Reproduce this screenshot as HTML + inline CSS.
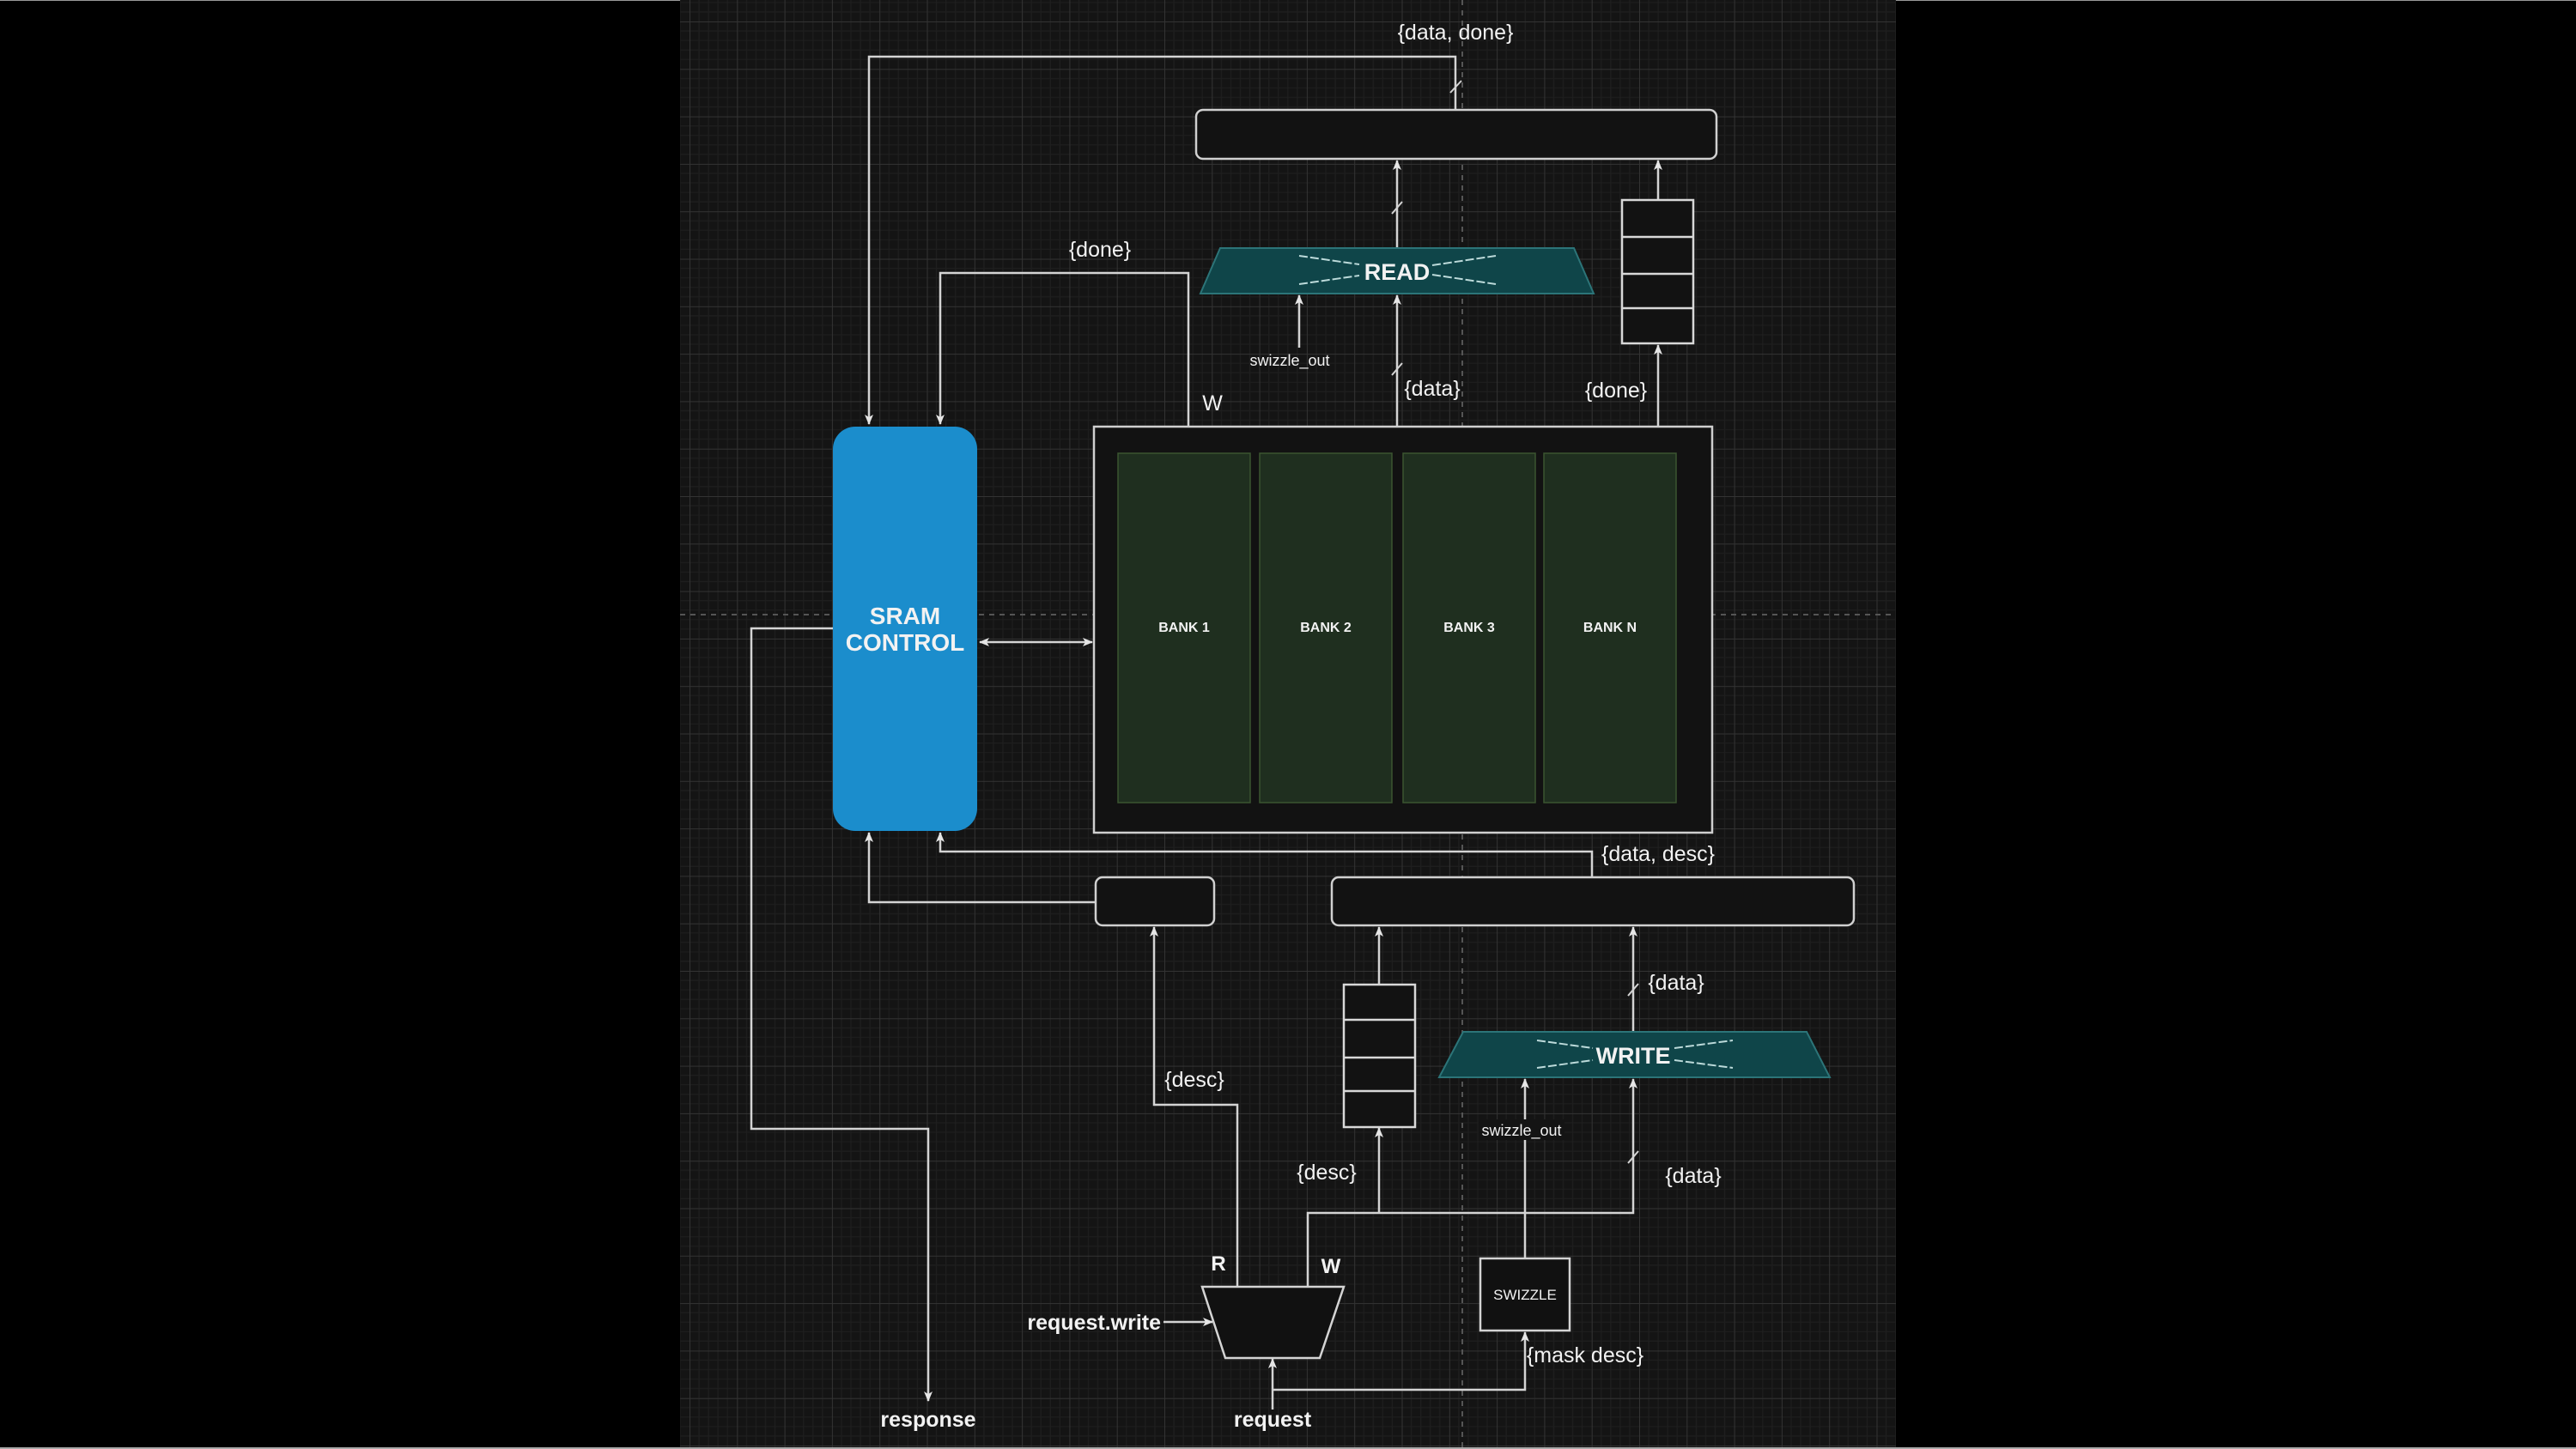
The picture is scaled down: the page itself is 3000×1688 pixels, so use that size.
<!DOCTYPE html>
<html>
<head>
<meta charset="utf-8">
<style>
  html,body{margin:0;padding:0;background:#000;}
  svg{display:block;}
  text{font-family:"Liberation Sans",Arial,sans-serif;fill:#f2f2f2;}
</style>
</head>
<body>
<svg width="3000" height="1688" viewBox="0 0 3000 1688" xmlns="http://www.w3.org/2000/svg">
  <defs>
    <pattern id="grid" x="803" y="25" width="55.3" height="55.3" patternUnits="userSpaceOnUse">
      <path d="M11.06 0V55.3M22.12 0V55.3M33.18 0V55.3M44.24 0V55.3M0 11.06H55.3M0 22.12H55.3M0 33.18H55.3M0 44.24H55.3" stroke="#1e1e1e" stroke-width="1.2" fill="none"/>
      <path d="M0 0V55.3M0 0H55.3" stroke="#333" stroke-width="2" fill="none"/>
    </pattern>
    <marker id="ah" viewBox="0 0 12 10" refX="11" refY="5" markerWidth="12" markerHeight="10" markerUnits="userSpaceOnUse" orient="auto-start-reverse">
      <path d="M0,0 L12,5 L0,10 L3,5 Z" fill="#e6e6e6"/>
    </marker>
  </defs>

  <!-- canvas -->
  <rect x="0" y="0" width="3000" height="1688" fill="#000"/>
  <rect x="792" y="0" width="1416" height="1688" fill="#141414"/>
  <rect x="792" y="0" width="1416" height="1688" fill="url(#grid)"/>
  <line x1="0" y1="0.5" x2="792" y2="0.5" stroke="#999" stroke-width="1"/>
  <line x1="2208" y1="0.5" x2="3000" y2="0.5" stroke="#999" stroke-width="1"/>
  <line x1="0" y1="1687" x2="3000" y2="1687" stroke="#aaa" stroke-width="2"/>

  <!-- guide lines -->
  <line x1="792" y1="716" x2="2208" y2="716" stroke="#555" stroke-width="2" stroke-dasharray="6 6"/>
  <line x1="1703" y1="0" x2="1703" y2="1688" stroke="#555" stroke-width="2" stroke-dasharray="6 6"/>

  <!-- connectors -->
  <g fill="none" stroke="#d4d4d4" stroke-width="2.5">
    <polyline points="1695,128 1695,66 1012,66 1012,494" marker-end="url(#ah)"/>
    <polyline points="1384,497 1384,318 1095,318 1095,494" marker-end="url(#ah)"/>
    <polyline points="1627,497 1627,344" marker-end="url(#ah)"/>
    <polyline points="1627,289 1627,187" marker-end="url(#ah)"/>
    <polyline points="1513,405 1513,344" marker-end="url(#ah)"/>
    <polyline points="1931,497 1931,402" marker-end="url(#ah)"/>
    <polyline points="1931,233 1931,187" marker-end="url(#ah)"/>
    <polyline points="1141,748 1272,748" marker-start="url(#ah)" marker-end="url(#ah)"/>
    <polyline points="970,732 875,732 875,1315 1081,1315 1081,1632" marker-end="url(#ah)"/>
    <polyline points="1854,1022 1854,992 1095,992 1095,970" marker-end="url(#ah)"/>
    <polyline points="1276,1051 1012,1051 1012,970" marker-end="url(#ah)"/>
    <polyline points="1441,1499 1441,1287 1344,1287 1344,1080" marker-end="url(#ah)"/>
    <polyline points="1523,1499 1523,1413 1902,1413 1902,1257" marker-end="url(#ah)"/>
    <polyline points="1606,1413 1606,1314" marker-end="url(#ah)"/>
    <polyline points="1606,1147 1606,1080" marker-end="url(#ah)"/>
    <polyline points="1902,1202 1902,1080" marker-end="url(#ah)"/>
    <polyline points="1776,1466 1776,1257" marker-end="url(#ah)"/>
    <polyline points="1482,1642 1482,1583" marker-end="url(#ah)"/>
    <polyline points="1482,1619 1776,1619 1776,1552" marker-end="url(#ah)"/>
    <polyline points="1355,1540 1412,1540" marker-end="url(#ah)"/>
  </g>
  <!-- bus slashes -->
  <g stroke="#d4d4d4" stroke-width="2">
    <line x1="1689" y1="108" x2="1702" y2="94"/>
    <line x1="1621" y1="249" x2="1633" y2="235"/>
    <line x1="1621" y1="437" x2="1633" y2="423"/>
    <line x1="1896" y1="1160" x2="1908" y2="1146"/>
    <line x1="1896" y1="1355" x2="1908" y2="1341"/>
  </g>

  <!-- top output box -->
  <rect x="1393" y="128" width="606" height="57" rx="8" fill="#121212" stroke="#d0d0d0" stroke-width="2.5"/>

  <!-- READ trapezoid -->
  <polygon points="1421,289 1833,289 1856,342 1398,342" fill="#0f4549" stroke="#2c7478" stroke-width="2"/>
  <g stroke="#bcdada" stroke-width="2" stroke-dasharray="10 3">
    <line x1="1513" y1="298" x2="1583" y2="308"/>
    <line x1="1668" y1="320" x2="1742" y2="331"/>
    <line x1="1513" y1="331" x2="1583" y2="321"/>
    <line x1="1668" y1="309" x2="1742" y2="298"/>
  </g>
  <text x="1627" y="326" font-size="27" font-weight="bold" text-anchor="middle">READ</text>

  <!-- top FIFO -->
  <rect x="1889" y="233" width="83" height="167" fill="#121212" stroke="#d8d8d8" stroke-width="2.5"/>
  <g stroke="#d8d8d8" stroke-width="2.5">
    <line x1="1889" y1="276" x2="1972" y2="276"/>
    <line x1="1889" y1="319" x2="1972" y2="319"/>
    <line x1="1889" y1="359" x2="1972" y2="359"/>
  </g>

  <!-- SRAM CONTROL -->
  <rect x="970" y="497" width="168" height="471" rx="26" fill="#1b8dcc"/>
  <text x="1054" y="727" font-size="28" font-weight="bold" text-anchor="middle">SRAM</text>
  <text x="1054" y="758" font-size="28" font-weight="bold" text-anchor="middle">CONTROL</text>

  <!-- bank container -->
  <rect x="1274" y="497" width="720" height="473" fill="#121212" stroke="#cfcfcf" stroke-width="2.5"/>
  <g fill="#1f2f1f" stroke="#3b5530" stroke-width="1.5">
    <rect x="1302" y="528" width="154" height="407"/>
    <rect x="1467" y="528" width="154" height="407"/>
    <rect x="1634" y="528" width="154" height="407"/>
    <rect x="1798" y="528" width="154" height="407"/>
  </g>
  <g font-size="16" font-weight="bold" text-anchor="middle">
    <text x="1379" y="736">BANK 1</text>
    <text x="1544" y="736">BANK 2</text>
    <text x="1711" y="736">BANK 3</text>
    <text x="1875" y="736">BANK N</text>
  </g>

  <!-- lower boxes -->
  <rect x="1276" y="1022" width="138" height="56" rx="8" fill="#121212" stroke="#d0d0d0" stroke-width="2.5"/>
  <rect x="1551" y="1022" width="608" height="56" rx="8" fill="#121212" stroke="#d0d0d0" stroke-width="2.5"/>

  <!-- bottom FIFO -->
  <rect x="1565" y="1147" width="83" height="166" fill="#121212" stroke="#d8d8d8" stroke-width="2.5"/>
  <g stroke="#d8d8d8" stroke-width="2.5">
    <line x1="1565" y1="1188" x2="1648" y2="1188"/>
    <line x1="1565" y1="1232" x2="1648" y2="1232"/>
    <line x1="1565" y1="1271" x2="1648" y2="1271"/>
  </g>

  <!-- WRITE trapezoid -->
  <polygon points="1704,1202 2104,1202 2131,1255 1676,1255" fill="#0f4549" stroke="#2c7478" stroke-width="2"/>
  <g stroke="#bcdada" stroke-width="2" stroke-dasharray="10 3">
    <line x1="1790" y1="1212" x2="1855" y2="1221"/>
    <line x1="1950" y1="1235" x2="2018" y2="1244"/>
    <line x1="1790" y1="1244" x2="1855" y2="1235"/>
    <line x1="1950" y1="1221" x2="2018" y2="1212"/>
  </g>
  <text x="1902" y="1239" font-size="27" font-weight="bold" text-anchor="middle">WRITE</text>

  <!-- mux -->
  <polygon points="1400,1499 1565,1499 1537,1582 1427,1582" fill="#111" stroke="#d4d4d4" stroke-width="2.5"/>

  <!-- SWIZZLE -->
  <rect x="1724" y="1466" width="104" height="84" fill="#111" stroke="#d4d4d4" stroke-width="2.5"/>
  <text x="1776" y="1514" font-size="17" text-anchor="middle">SWIZZLE</text>

  <!-- labels -->
  <g font-size="25" text-anchor="middle">
    <text x="1695" y="46">{data, done}</text>
    <text x="1281" y="299">{done}</text>
    <text x="1412" y="478">W</text>
    <text x="1668" y="461">{data}</text>
    <text x="1882" y="463">{done}</text>
    <text x="1931" y="1003">{data, desc}</text>
    <text x="1391" y="1266">{desc}</text>
    <text x="1952" y="1153">{data}</text>
    <text x="1545" y="1374">{desc}</text>
    <text x="1972" y="1378">{data}</text>
    <text x="1846" y="1587">{mask desc}</text>
  </g>
  <text x="1502" y="426" font-size="18" text-anchor="middle">swizzle_out</text>
  <rect x="1722" y="1304" width="100" height="24" fill="#141414"/>
  <text x="1772" y="1323" font-size="18" text-anchor="middle">swizzle_out</text>

  <g font-size="24" font-weight="bold" text-anchor="middle">
    <text x="1419" y="1480">R</text>
    <text x="1550" y="1483">W</text>
  </g>
  <g font-size="25" font-weight="bold">
    <text x="1352" y="1549" text-anchor="end">request.write</text>
    <text x="1482" y="1662" text-anchor="middle">request</text>
    <text x="1081" y="1662" text-anchor="middle">response</text>
  </g>
</svg>
</body>
</html>
